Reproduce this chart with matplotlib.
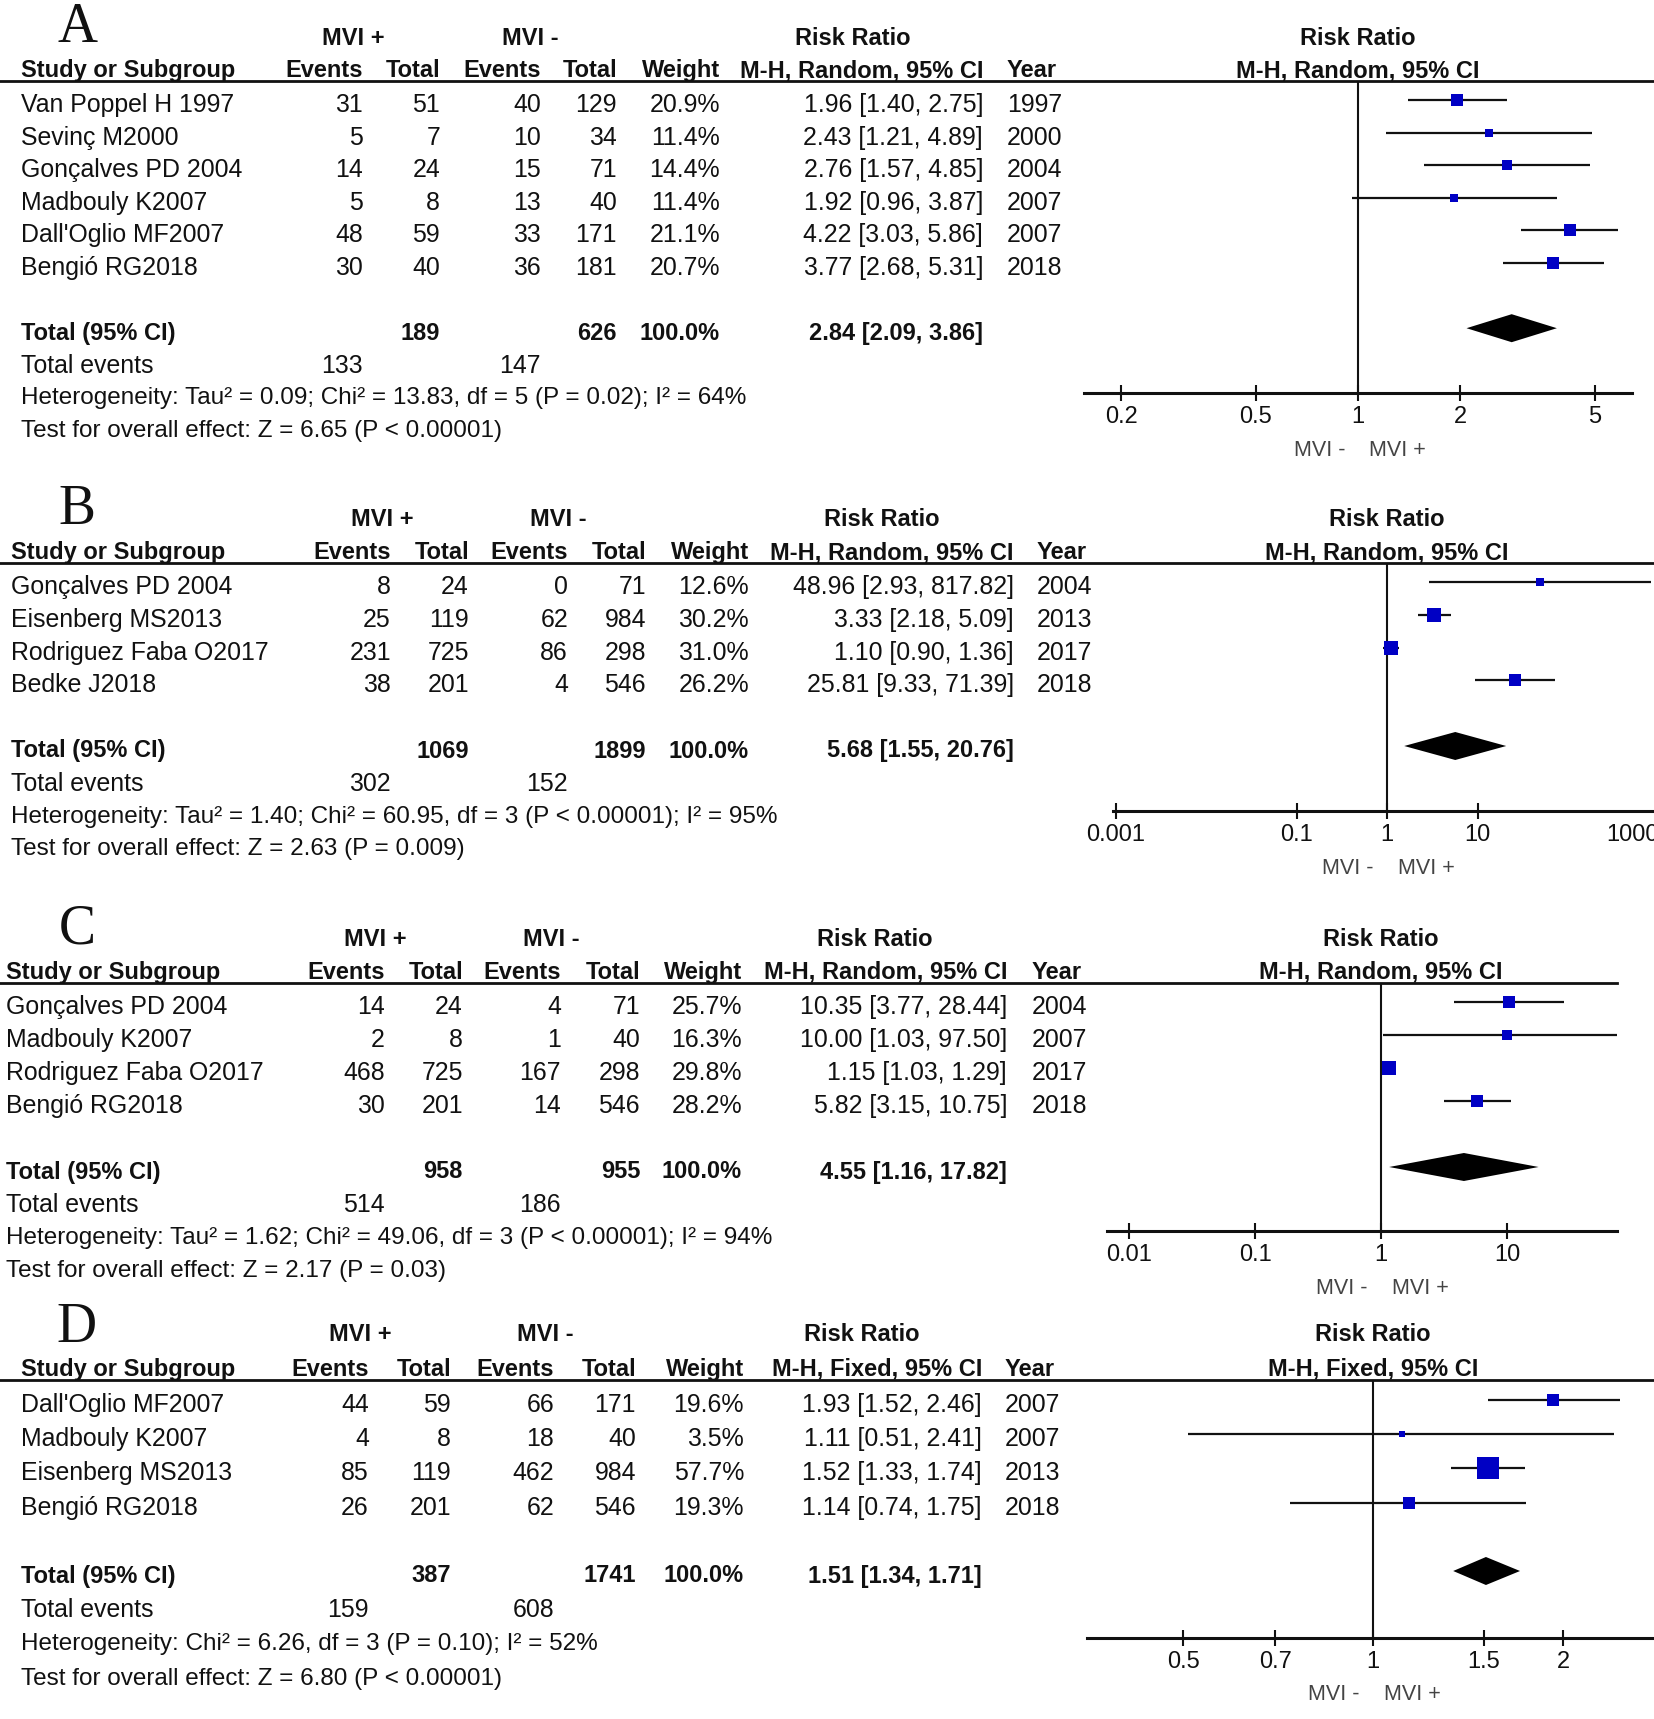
import numpy as np
import matplotlib.pyplot as plt
from matplotlib.ticker import NullLocator

plt.rcParams['font.family'] = ['Liberation Sans', 'DejaVu Sans']

W, H = 1654, 1719
FS = 17.9      # regular table text
FSB = 17.0     # bold table text
BLUE = '#0000c4'

# ---- panel A data ----
a_study = ["Van Poppel H 1997", "Sevinç M2000", "Gonçalves PD 2004",
           "Madbouly K2007", "Dall'Oglio MF2007", "Bengió RG2018"]
a_ev1 = [31, 5, 14, 5, 48, 30]
a_tot1 = [51, 7, 24, 8, 59, 40]
a_ev2 = [40, 10, 15, 13, 33, 36]
a_tot2 = [129, 34, 71, 40, 171, 181]
a_weight = [20.9, 11.4, 14.4, 11.4, 21.1, 20.7]
a_rr = [1.96, 2.43, 2.76, 1.92, 4.22, 3.77]
a_lo = [1.40, 1.21, 1.57, 0.96, 3.03, 2.68]
a_hi = [2.75, 4.89, 4.85, 3.87, 5.86, 5.31]
a_year = [1997, 2000, 2004, 2007, 2007, 2018]
a_total = [189, 626]
a_events = [133, 147]
a_pooled = [2.84, 2.09, 3.86]
a_het = "Heterogeneity: Tau² = 0.09; Chi² = 13.83, df = 5 (P = 0.02); I² = 64%"
a_test = "Test for overall effect: Z = 6.65 (P < 0.00001)"
a_ticks = [0.2, 0.5, 1, 2, 5]

# ---- panel B data ----
b_study = ["Gonçalves PD 2004", "Eisenberg MS2013", "Rodriguez Faba O2017", "Bedke J2018"]
b_ev1 = [8, 25, 231, 38]
b_tot1 = [24, 119, 725, 201]
b_ev2 = [0, 62, 86, 4]
b_tot2 = [71, 984, 298, 546]
b_weight = [12.6, 30.2, 31.0, 26.2]
b_rr = [48.96, 3.33, 1.10, 25.81]
b_lo = [2.93, 2.18, 0.90, 9.33]
b_hi = [817.82, 5.09, 1.36, 71.39]
b_year = [2004, 2013, 2017, 2018]
b_total = [1069, 1899]
b_events = [302, 152]
b_pooled = [5.68, 1.55, 20.76]
b_het = "Heterogeneity: Tau² = 1.40; Chi² = 60.95, df = 3 (P < 0.00001); I² = 95%"
b_test = "Test for overall effect: Z = 2.63 (P = 0.009)"
b_ticks = [0.001, 0.1, 1, 10, 1000]

# ---- panel C data ----
c_study = ["Gonçalves PD 2004", "Madbouly K2007", "Rodriguez Faba O2017", "Bengió RG2018"]
c_ev1 = [14, 2, 468, 30]
c_tot1 = [24, 8, 725, 201]
c_ev2 = [4, 1, 167, 14]
c_tot2 = [71, 40, 298, 546]
c_weight = [25.7, 16.3, 29.8, 28.2]
c_rr = [10.35, 10.00, 1.15, 5.82]
c_lo = [3.77, 1.03, 1.03, 3.15]
c_hi = [28.44, 97.50, 1.29, 10.75]
c_year = [2004, 2007, 2017, 2018]
c_total = [958, 955]
c_events = [514, 186]
c_pooled = [4.55, 1.16, 17.82]
c_het = "Heterogeneity: Tau² = 1.62; Chi² = 49.06, df = 3 (P < 0.00001); I² = 94%"
c_test = "Test for overall effect: Z = 2.17 (P = 0.03)"
c_ticks = [0.01, 0.1, 1, 10, 100]

# ---- panel D data ----
d_study = ["Dall'Oglio MF2007", "Madbouly K2007", "Eisenberg MS2013", "Bengió RG2018"]
d_ev1 = [44, 4, 85, 26]
d_tot1 = [59, 8, 119, 201]
d_ev2 = [66, 18, 462, 62]
d_tot2 = [171, 40, 984, 546]
d_weight = [19.6, 3.5, 57.7, 19.3]
d_rr = [1.93, 1.11, 1.52, 1.14]
d_lo = [1.52, 0.51, 1.33, 0.74]
d_hi = [2.46, 2.41, 1.74, 1.75]
d_year = [2007, 2007, 2013, 2018]
d_total = [387, 1741]
d_events = [159, 608]
d_pooled = [1.51, 1.34, 1.71]
d_het = "Heterogeneity: Chi² = 6.26, df = 3 (P = 0.10); I² = 52%"
d_test = "Test for overall effect: Z = 6.80 (P < 0.00001)"
d_ticks = [0.5, 0.7, 1, 1.5, 2]

# layout in pixels of the 1654x1719 canvas
layouts = {
    'A': dict(y0=105, dy=32.6, sx=21, ev1=363, tot1=440, ev2=541, tot2=617, wt=720,
              ci=983, year=1007, mvp=353, mvm=530, rrh=853, x1=1358, ppd=339,
              xl=1084, xr=1632, axis_y=393, line_end=1654, k=2.5),
    'B': dict(y0=587, dy=32.8, sx=11, ev1=391, tot1=469, ev2=568, tot2=646, wt=749,
              ci=1014, year=1037, mvp=382, mvm=558, rrh=882, x1=1387, ppd=90.5,
              xl=1113, xr=1660, axis_y=811, line_end=1654, k=2.4),
    'C': dict(y0=1007, dy=33.0, sx=6, ev1=385, tot1=463, ev2=561, tot2=640, wt=742,
              ci=1007, year=1032, mvp=375, mvm=551, rrh=875, x1=1381, ppd=126,
              xl=1107, xr=1617, axis_y=1231, line_end=1617, k=2.4),
    'D': dict(y0=1405, dy=34.2, sx=21, ev1=369, tot1=451, ev2=554, tot2=636, wt=744,
              ci=982, year=1005, mvp=360, mvm=545, rrh=862, x1=1373, ppd=631,
              xl=1087, xr=1654, axis_y=1638, line_end=1654, k=2.8),
}

panels = [
    ('A', 'M-H, Random, 95% CI', a_study, a_ev1, a_tot1, a_ev2, a_tot2, a_weight, a_rr, a_lo, a_hi,
     a_year, a_total, a_events, a_pooled, a_het, a_test, a_ticks),
    ('B', 'M-H, Random, 95% CI', b_study, b_ev1, b_tot1, b_ev2, b_tot2, b_weight, b_rr, b_lo, b_hi,
     b_year, b_total, b_events, b_pooled, b_het, b_test, b_ticks),
    ('C', 'M-H, Random, 95% CI', c_study, c_ev1, c_tot1, c_ev2, c_tot2, c_weight, c_rr, c_lo, c_hi,
     c_year, c_total, c_events, c_pooled, c_het, c_test, c_ticks),
    ('D', 'M-H, Fixed, 95% CI', d_study, d_ev1, d_tot1, d_ev2, d_tot2, d_weight, d_rr, d_lo, d_hi,
     d_year, d_total, d_events, d_pooled, d_het, d_test, d_ticks),
]

fig = plt.figure(figsize=(W / 100, H / 100), dpi=100)
bg = fig.add_axes([0, 0, 1, 1])
bg.set_xlim(0, W)
bg.set_ylim(H, 0)
bg.axis('off')


def txt(x, y, s, ha='left', bold=False, **kw):
    size = kw.pop('fontsize', FSB if bold else FS)
    bg.text(x, y, s, ha=ha, va='center', fontsize=size,
            fontweight='bold' if bold else 'normal', color=kw.pop('color', '#111111'), **kw)


for (letter, method, study, ev1, tot1, ev2, tot2, weight, rr, lo, hi, year,
     total, events, pooled, het, test, ticks) in panels:
    p = layouts[letter]
    y0, dy = p['y0'], p['dy']
    n = len(study)
    h1 = y0 - 2.05 * dy
    h2 = y0 - 1.05 * dy
    uline = y0 - 0.73 * dy

    # panel letter and headers
    bg.text(77, y0 - 63, letter, ha='center', va='baseline', fontsize=40,
            family=['Liberation Serif', 'DejaVu Serif'], color='#111111')
    txt(p['mvp'], h1, 'MVI +', ha='center', bold=True)
    txt(p['mvm'], h1, 'MVI -', ha='center', bold=True)
    txt(p['rrh'], h1, 'Risk Ratio', ha='center', bold=True)
    txt(p['x1'], h1, 'Risk Ratio', ha='center', bold=True)
    txt(p['sx'], h2, 'Study or Subgroup', bold=True)
    txt(p['ev1'], h2, 'Events', ha='right', bold=True)
    txt(p['tot1'], h2, 'Total', ha='right', bold=True)
    txt(p['ev2'], h2, 'Events', ha='right', bold=True)
    txt(p['tot2'], h2, 'Total', ha='right', bold=True)
    txt(p['wt'], h2, 'Weight', ha='right', bold=True)
    txt(p['ci'], h2, method, ha='right', bold=True)
    txt(p['year'], h2, 'Year', bold=True)
    txt(p['x1'], h2, method, ha='center', bold=True)
    bg.plot([0, p['line_end']], [uline, uline], color='#111111', lw=2)

    # study rows
    for i in range(n):
        y = y0 + i * dy
        txt(p['sx'], y, study[i])
        txt(p['ev1'], y, str(ev1[i]), ha='right')
        txt(p['tot1'], y, str(tot1[i]), ha='right')
        txt(p['ev2'], y, str(ev2[i]), ha='right')
        txt(p['tot2'], y, str(tot2[i]), ha='right')
        txt(p['wt'], y, f"{weight[i]:.1f}%", ha='right')
        txt(p['ci'], y, f"{rr[i]:.2f} [{lo[i]:.2f}, {hi[i]:.2f}]", ha='right')
        txt(p['year'], y, str(year[i]))

    # totals
    yt = y0 + (n + 1) * dy
    txt(p['sx'], yt, 'Total (95% CI)', bold=True)
    txt(p['tot1'], yt, str(total[0]), ha='right', bold=True)
    txt(p['tot2'], yt, str(total[1]), ha='right', bold=True)
    txt(p['wt'], yt, '100.0%', ha='right', bold=True)
    txt(p['ci'], yt, f"{pooled[0]:.2f} [{pooled[1]:.2f}, {pooled[2]:.2f}]", ha='right', bold=True)
    ye = y0 + (n + 2) * dy
    txt(p['sx'], ye, 'Total events')
    txt(p['ev1'], ye, str(events[0]), ha='right')
    txt(p['ev2'], ye, str(events[1]), ha='right')
    txt(p['sx'], y0 + (n + 3) * dy, het, fontsize=17.5)
    txt(p['sx'], y0 + (n + 4) * dy, test, fontsize=17.5)

    # forest plot
    mark0 = y0 - 5
    fa = fig.add_axes([p['xl'] / W, 1 - p['axis_y'] / H,
                       (p['xr'] - p['xl']) / W, (p['axis_y'] - uline) / H])
    fa.patch.set_visible(False)
    fa.set_xscale('log')
    fa.xaxis.set_minor_locator(NullLocator())
    fa.set_xticks(ticks, labels=[f"{t:g}" for t in ticks])
    # limits after the ticks, so that ticks off the drawn range stay hidden
    fa.set_xlim(10 ** ((p['xl'] - p['x1']) / p['ppd']), 10 ** ((p['xr'] - p['x1']) / p['ppd']))
    fa.set_ylim((p['axis_y'] - mark0) / dy, (uline - mark0) / dy)
    for s in ['top', 'left', 'right']:
        fa.spines[s].set_visible(False)
    fa.spines['bottom'].set_linewidth(2.2)
    fa.spines['bottom'].set_color('#111111')
    fa.axvline(1, color='#111111', lw=1.5)
    for i in range(n):
        fa.plot([lo[i], hi[i]], [i, i], color='#111111', lw=1.6, solid_capstyle='butt')
        side = p['k'] * np.sqrt(weight[i])
        fa.plot(rr[i], i, marker='s', ms=side / 1.389, color=BLUE, mew=0)
    hd = 14 / dy
    fa.fill([pooled[1], pooled[0], pooled[2], pooled[0]],
            [n + 1, n + 1 - hd, n + 1, n + 1 + hd], color='black', lw=0)
    fa.tick_params(axis='x', which='major', direction='inout', length=12, width=1.5,
                   pad=3.5, labelsize=17, colors='#111111')
    fa.tick_params(axis='y', left=False, labelleft=False)
    if letter == 'B':
        fa.get_xticklabels()[-1].set_ha('right')
    txt(p['x1'] - 13, p['axis_y'] + 57, 'MVI -', ha='right', fontsize=15.5, color='#444444')
    txt(p['x1'] + 11, p['axis_y'] + 57, 'MVI +', fontsize=15.5, color='#444444')

fig.savefig('out.png', dpi=100)
